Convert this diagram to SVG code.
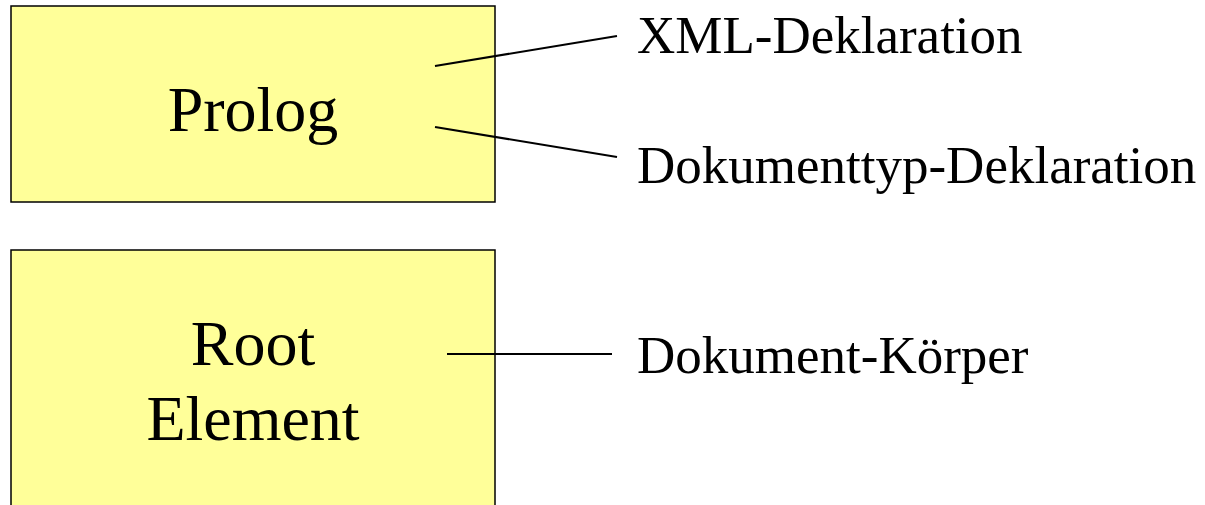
<svg xmlns="http://www.w3.org/2000/svg" width="1205" height="505" viewBox="0 0 1205 505">
  <style>
    .box { fill: #ffff99; stroke: #000; stroke-width: 1.5; }
    .big { font-family: "Liberation Serif", "Times New Roman", serif; font-size: 64px; fill: #000; text-anchor: middle; }
    .lbl { font-family: "Liberation Serif", "Times New Roman", serif; font-size: 53px; fill: #000; }
    .con line { stroke: #000; stroke-width: 2; }
  </style>
  <rect width="1205" height="505" fill="#fff"/>
  <g id="prolog">
    <rect class="box" x="11" y="6" width="484" height="196"/>
    <text class="big" x="253" y="131">Prolog</text>
  </g>
  <g id="root-element">
    <rect class="box" x="11" y="250" width="484" height="270"/>
    <text class="big" x="253" y="365">Root</text>
    <text class="big" x="253" y="440">Element</text>
  </g>
  <g id="labels">
    <text class="lbl" x="637" y="53">XML-Deklaration</text>
    <text class="lbl" x="637" y="183">Dokumenttyp-Deklaration</text>
    <text class="lbl" x="637" y="373">Dokument-Körper</text>
  </g>
  <g id="connectors" class="con">
    <line x1="435" y1="66" x2="617" y2="36"/>
    <line x1="435" y1="127" x2="617" y2="157"/>
    <line x1="447" y1="354" x2="612" y2="354"/>
  </g>
</svg>
